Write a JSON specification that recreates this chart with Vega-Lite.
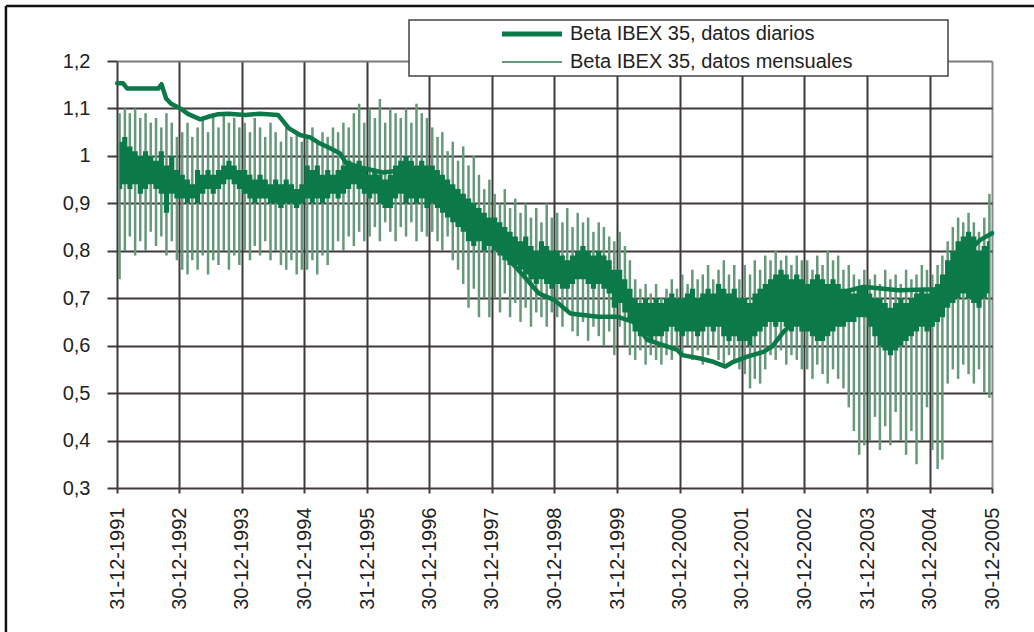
{
"$schema":"https://vega.github.io/schema/vega-lite/v6.json",
"autosize":{"type":"none"},
"width":875,"height":427,
"padding":{"left":117,"top":61,"right":42,"bottom":144},
"background":"white",
"config":{"view":{"stroke":null},"font":"Liberation Sans"},
"datasets":{
"mensual":[
{"d":"1992-01-15","hi":1.09,"lo":0.74,"ch":1.03,"cl":0.93},
{"d":"1992-02-15","hi":1.10,"lo":0.80,"ch":1.04,"cl":0.94},
{"d":"1992-03-15","hi":1.09,"lo":0.83,"ch":1.02,"cl":0.93},
{"d":"1992-04-15","hi":1.10,"lo":0.79,"ch":1.01,"cl":0.94},
{"d":"1992-05-15","hi":1.08,"lo":0.82,"ch":1.00,"cl":0.92},
{"d":"1992-06-15","hi":1.09,"lo":0.80,"ch":1.01,"cl":0.93},
{"d":"1992-07-15","hi":1.07,"lo":0.84,"ch":1.00,"cl":0.94},
{"d":"1992-08-15","hi":1.08,"lo":0.81,"ch":0.99,"cl":0.93},
{"d":"1992-09-15","hi":1.06,"lo":0.83,"ch":1.01,"cl":0.92},
{"d":"1992-10-15","hi":1.09,"lo":0.79,"ch":0.98,"cl":0.88},
{"d":"1992-11-15","hi":1.07,"lo":0.82,"ch":1.00,"cl":0.92},
{"d":"1992-12-15","hi":1.04,"lo":0.78,"ch":0.97,"cl":0.91},
{"d":"1993-01-15","hi":1.05,"lo":0.76,"ch":0.96,"cl":0.91},
{"d":"1993-02-15","hi":1.07,"lo":0.75,"ch":0.95,"cl":0.90},
{"d":"1993-03-15","hi":1.04,"lo":0.78,"ch":0.94,"cl":0.91},
{"d":"1993-04-15","hi":1.06,"lo":0.76,"ch":0.97,"cl":0.90},
{"d":"1993-05-15","hi":1.08,"lo":0.79,"ch":0.96,"cl":0.92},
{"d":"1993-06-15","hi":1.05,"lo":0.75,"ch":0.97,"cl":0.93},
{"d":"1993-07-15","hi":1.09,"lo":0.78,"ch":0.96,"cl":0.92},
{"d":"1993-08-15","hi":1.06,"lo":0.77,"ch":0.97,"cl":0.93},
{"d":"1993-09-15","hi":1.09,"lo":0.80,"ch":0.98,"cl":0.94},
{"d":"1993-10-15","hi":1.07,"lo":0.76,"ch":0.99,"cl":0.95},
{"d":"1993-11-15","hi":1.08,"lo":0.79,"ch":0.98,"cl":0.94},
{"d":"1993-12-15","hi":1.06,"lo":0.77,"ch":0.97,"cl":0.93},
{"d":"1994-01-15","hi":1.07,"lo":0.80,"ch":0.97,"cl":0.92},
{"d":"1994-02-15","hi":1.05,"lo":0.78,"ch":0.96,"cl":0.91},
{"d":"1994-03-15","hi":1.08,"lo":0.81,"ch":0.95,"cl":0.90},
{"d":"1994-04-15","hi":1.06,"lo":0.79,"ch":0.96,"cl":0.91},
{"d":"1994-05-15","hi":1.04,"lo":0.82,"ch":0.95,"cl":0.91},
{"d":"1994-06-15","hi":1.07,"lo":0.78,"ch":0.94,"cl":0.90},
{"d":"1994-07-15","hi":1.05,"lo":0.80,"ch":0.95,"cl":0.90},
{"d":"1994-08-15","hi":1.03,"lo":0.77,"ch":0.94,"cl":0.89},
{"d":"1994-09-15","hi":1.06,"lo":0.76,"ch":0.95,"cl":0.90},
{"d":"1994-10-15","hi":1.04,"lo":0.78,"ch":0.94,"cl":0.90},
{"d":"1994-11-15","hi":1.05,"lo":0.75,"ch":0.93,"cl":0.89},
{"d":"1994-12-15","hi":1.03,"lo":0.76,"ch":0.94,"cl":0.90},
{"d":"1995-01-15","hi":1.04,"lo":0.76,"ch":0.98,"cl":0.91},
{"d":"1995-02-15","hi":1.06,"lo":0.78,"ch":0.97,"cl":0.90},
{"d":"1995-03-15","hi":1.03,"lo":0.75,"ch":0.98,"cl":0.91},
{"d":"1995-04-15","hi":1.05,"lo":0.79,"ch":0.96,"cl":0.90},
{"d":"1995-05-15","hi":1.04,"lo":0.77,"ch":0.97,"cl":0.91},
{"d":"1995-06-15","hi":1.06,"lo":0.80,"ch":0.96,"cl":0.92},
{"d":"1995-07-15","hi":1.05,"lo":0.82,"ch":0.97,"cl":0.91},
{"d":"1995-08-15","hi":1.07,"lo":0.80,"ch":0.98,"cl":0.92},
{"d":"1995-09-15","hi":1.06,"lo":0.83,"ch":0.99,"cl":0.93},
{"d":"1995-10-15","hi":1.09,"lo":0.81,"ch":0.98,"cl":0.94},
{"d":"1995-11-15","hi":1.11,"lo":0.84,"ch":0.99,"cl":0.93},
{"d":"1995-12-15","hi":1.07,"lo":0.82,"ch":0.97,"cl":0.92},
{"d":"1996-01-15","hi":1.10,"lo":0.83,"ch":0.96,"cl":0.91},
{"d":"1996-02-15","hi":1.08,"lo":0.85,"ch":0.97,"cl":0.92},
{"d":"1996-03-15","hi":1.12,"lo":0.82,"ch":0.96,"cl":0.90},
{"d":"1996-04-15","hi":1.07,"lo":0.86,"ch":0.95,"cl":0.89},
{"d":"1996-05-15","hi":1.10,"lo":0.84,"ch":0.96,"cl":0.89},
{"d":"1996-06-15","hi":1.09,"lo":0.82,"ch":0.98,"cl":0.91},
{"d":"1996-07-15","hi":1.08,"lo":0.85,"ch":0.99,"cl":0.92},
{"d":"1996-08-15","hi":1.10,"lo":0.83,"ch":1.00,"cl":0.90},
{"d":"1996-09-15","hi":1.07,"lo":0.86,"ch":0.99,"cl":0.91},
{"d":"1996-10-15","hi":1.11,"lo":0.82,"ch":0.98,"cl":0.90},
{"d":"1996-11-15","hi":1.09,"lo":0.84,"ch":0.99,"cl":0.91},
{"d":"1996-12-15","hi":1.08,"lo":0.83,"ch":0.98,"cl":0.89},
{"d":"1997-01-15","hi":1.06,"lo":0.84,"ch":0.98,"cl":0.90},
{"d":"1997-02-15","hi":1.04,"lo":0.82,"ch":0.97,"cl":0.89},
{"d":"1997-03-15","hi":1.05,"lo":0.80,"ch":0.96,"cl":0.88},
{"d":"1997-04-15","hi":1.01,"lo":0.83,"ch":0.95,"cl":0.87},
{"d":"1997-05-15","hi":1.03,"lo":0.78,"ch":0.94,"cl":0.86},
{"d":"1997-06-15","hi":0.99,"lo":0.76,"ch":0.93,"cl":0.85},
{"d":"1997-07-15","hi":1.02,"lo":0.73,"ch":0.92,"cl":0.84},
{"d":"1997-08-15","hi":0.98,"lo":0.68,"ch":0.91,"cl":0.82},
{"d":"1997-09-15","hi":1.00,"lo":0.72,"ch":0.90,"cl":0.81},
{"d":"1997-10-15","hi":0.96,"lo":0.66,"ch":0.89,"cl":0.82},
{"d":"1997-11-15","hi":0.93,"lo":0.70,"ch":0.88,"cl":0.80},
{"d":"1997-12-15","hi":0.95,"lo":0.66,"ch":0.87,"cl":0.81},
{"d":"1998-01-15","hi":0.92,"lo":0.70,"ch":0.87,"cl":0.80},
{"d":"1998-02-15","hi":0.90,"lo":0.67,"ch":0.86,"cl":0.79},
{"d":"1998-03-15","hi":0.93,"lo":0.71,"ch":0.85,"cl":0.78},
{"d":"1998-04-15","hi":0.89,"lo":0.66,"ch":0.84,"cl":0.77},
{"d":"1998-05-15","hi":0.91,"lo":0.69,"ch":0.83,"cl":0.77},
{"d":"1998-06-15","hi":0.88,"lo":0.65,"ch":0.82,"cl":0.76},
{"d":"1998-07-15","hi":0.90,"lo":0.68,"ch":0.83,"cl":0.75},
{"d":"1998-08-15","hi":0.87,"lo":0.64,"ch":0.81,"cl":0.74},
{"d":"1998-09-15","hi":0.89,"lo":0.67,"ch":0.80,"cl":0.73},
{"d":"1998-10-15","hi":0.86,"lo":0.66,"ch":0.82,"cl":0.74},
{"d":"1998-11-15","hi":0.90,"lo":0.64,"ch":0.81,"cl":0.73},
{"d":"1998-12-15","hi":0.87,"lo":0.67,"ch":0.80,"cl":0.72},
{"d":"1999-01-15","hi":0.88,"lo":0.66,"ch":0.80,"cl":0.73},
{"d":"1999-02-15","hi":0.86,"lo":0.64,"ch":0.79,"cl":0.72},
{"d":"1999-03-15","hi":0.89,"lo":0.67,"ch":0.78,"cl":0.72},
{"d":"1999-04-15","hi":0.85,"lo":0.63,"ch":0.79,"cl":0.73},
{"d":"1999-05-15","hi":0.88,"lo":0.62,"ch":0.80,"cl":0.74},
{"d":"1999-06-15","hi":0.86,"lo":0.65,"ch":0.81,"cl":0.74},
{"d":"1999-07-15","hi":0.87,"lo":0.61,"ch":0.80,"cl":0.73},
{"d":"1999-08-15","hi":0.84,"lo":0.64,"ch":0.79,"cl":0.72},
{"d":"1999-09-15","hi":0.86,"lo":0.62,"ch":0.80,"cl":0.73},
{"d":"1999-10-15","hi":0.85,"lo":0.60,"ch":0.79,"cl":0.72},
{"d":"1999-11-15","hi":0.83,"lo":0.63,"ch":0.78,"cl":0.71},
{"d":"1999-12-15","hi":0.82,"lo":0.58,"ch":0.76,"cl":0.68},
{"d":"2000-01-15","hi":0.84,"lo":0.64,"ch":0.76,"cl":0.69},
{"d":"2000-02-15","hi":0.81,"lo":0.60,"ch":0.74,"cl":0.67},
{"d":"2000-03-15","hi":0.78,"lo":0.58,"ch":0.72,"cl":0.65},
{"d":"2000-04-15","hi":0.74,"lo":0.57,"ch":0.70,"cl":0.63},
{"d":"2000-05-15","hi":0.72,"lo":0.59,"ch":0.69,"cl":0.62},
{"d":"2000-06-15","hi":0.73,"lo":0.56,"ch":0.70,"cl":0.62},
{"d":"2000-07-15","hi":0.71,"lo":0.58,"ch":0.69,"cl":0.61},
{"d":"2000-08-15","hi":0.73,"lo":0.57,"ch":0.70,"cl":0.62},
{"d":"2000-09-15","hi":0.70,"lo":0.56,"ch":0.69,"cl":0.62},
{"d":"2000-10-15","hi":0.72,"lo":0.58,"ch":0.70,"cl":0.63},
{"d":"2000-11-15","hi":0.74,"lo":0.57,"ch":0.71,"cl":0.64},
{"d":"2000-12-15","hi":0.72,"lo":0.59,"ch":0.70,"cl":0.63},
{"d":"2001-01-15","hi":0.75,"lo":0.58,"ch":0.70,"cl":0.62},
{"d":"2001-02-15","hi":0.73,"lo":0.60,"ch":0.71,"cl":0.63},
{"d":"2001-03-15","hi":0.76,"lo":0.57,"ch":0.72,"cl":0.63},
{"d":"2001-04-15","hi":0.74,"lo":0.59,"ch":0.70,"cl":0.62},
{"d":"2001-05-15","hi":0.75,"lo":0.56,"ch":0.71,"cl":0.63},
{"d":"2001-06-15","hi":0.77,"lo":0.58,"ch":0.72,"cl":0.64},
{"d":"2001-07-15","hi":0.74,"lo":0.60,"ch":0.71,"cl":0.63},
{"d":"2001-08-15","hi":0.76,"lo":0.57,"ch":0.73,"cl":0.64},
{"d":"2001-09-15","hi":0.78,"lo":0.56,"ch":0.72,"cl":0.62},
{"d":"2001-10-15","hi":0.75,"lo":0.58,"ch":0.71,"cl":0.61},
{"d":"2001-11-15","hi":0.77,"lo":0.57,"ch":0.72,"cl":0.62},
{"d":"2001-12-15","hi":0.74,"lo":0.55,"ch":0.70,"cl":0.61},
{"d":"2002-01-15","hi":0.77,"lo":0.54,"ch":0.70,"cl":0.61},
{"d":"2002-02-15","hi":0.75,"lo":0.51,"ch":0.69,"cl":0.60},
{"d":"2002-03-15","hi":0.78,"lo":0.53,"ch":0.71,"cl":0.62},
{"d":"2002-04-15","hi":0.76,"lo":0.52,"ch":0.72,"cl":0.63},
{"d":"2002-05-15","hi":0.79,"lo":0.55,"ch":0.73,"cl":0.64},
{"d":"2002-06-15","hi":0.78,"lo":0.58,"ch":0.74,"cl":0.65},
{"d":"2002-07-15","hi":0.80,"lo":0.57,"ch":0.75,"cl":0.64},
{"d":"2002-08-15","hi":0.78,"lo":0.59,"ch":0.76,"cl":0.65},
{"d":"2002-09-15","hi":0.79,"lo":0.56,"ch":0.75,"cl":0.64},
{"d":"2002-10-15","hi":0.77,"lo":0.58,"ch":0.74,"cl":0.63},
{"d":"2002-11-15","hi":0.79,"lo":0.57,"ch":0.75,"cl":0.64},
{"d":"2002-12-15","hi":0.78,"lo":0.55,"ch":0.74,"cl":0.63},
{"d":"2003-01-15","hi":0.78,"lo":0.55,"ch":0.73,"cl":0.63},
{"d":"2003-02-15","hi":0.76,"lo":0.53,"ch":0.74,"cl":0.62},
{"d":"2003-03-15","hi":0.79,"lo":0.56,"ch":0.75,"cl":0.61},
{"d":"2003-04-15","hi":0.77,"lo":0.54,"ch":0.74,"cl":0.61},
{"d":"2003-05-15","hi":0.80,"lo":0.52,"ch":0.73,"cl":0.62},
{"d":"2003-06-15","hi":0.78,"lo":0.55,"ch":0.74,"cl":0.63},
{"d":"2003-07-15","hi":0.79,"lo":0.53,"ch":0.73,"cl":0.64},
{"d":"2003-08-15","hi":0.76,"lo":0.51,"ch":0.72,"cl":0.64},
{"d":"2003-09-15","hi":0.77,"lo":0.47,"ch":0.72,"cl":0.65},
{"d":"2003-10-15","hi":0.75,"lo":0.42,"ch":0.71,"cl":0.65},
{"d":"2003-11-15","hi":0.74,"lo":0.37,"ch":0.72,"cl":0.66},
{"d":"2003-12-15","hi":0.76,"lo":0.39,"ch":0.72,"cl":0.66},
{"d":"2004-01-15","hi":0.74,"lo":0.40,"ch":0.71,"cl":0.64},
{"d":"2004-02-15","hi":0.75,"lo":0.45,"ch":0.70,"cl":0.62},
{"d":"2004-03-15","hi":0.73,"lo":0.38,"ch":0.70,"cl":0.60},
{"d":"2004-04-15","hi":0.76,"lo":0.43,"ch":0.69,"cl":0.59},
{"d":"2004-05-15","hi":0.74,"lo":0.39,"ch":0.68,"cl":0.58},
{"d":"2004-06-15","hi":0.75,"lo":0.46,"ch":0.69,"cl":0.59},
{"d":"2004-07-15","hi":0.73,"lo":0.40,"ch":0.70,"cl":0.60},
{"d":"2004-08-15","hi":0.76,"lo":0.37,"ch":0.69,"cl":0.61},
{"d":"2004-09-15","hi":0.74,"lo":0.42,"ch":0.70,"cl":0.62},
{"d":"2004-10-15","hi":0.75,"lo":0.35,"ch":0.71,"cl":0.63},
{"d":"2004-11-15","hi":0.77,"lo":0.40,"ch":0.72,"cl":0.64},
{"d":"2004-12-15","hi":0.76,"lo":0.47,"ch":0.71,"cl":0.63},
{"d":"2005-01-15","hi":0.75,"lo":0.38,"ch":0.72,"cl":0.64},
{"d":"2005-02-15","hi":0.77,"lo":0.34,"ch":0.73,"cl":0.65},
{"d":"2005-03-15","hi":0.79,"lo":0.36,"ch":0.75,"cl":0.66},
{"d":"2005-04-15","hi":0.82,"lo":0.52,"ch":0.78,"cl":0.68},
{"d":"2005-05-15","hi":0.85,"lo":0.55,"ch":0.80,"cl":0.69},
{"d":"2005-06-15","hi":0.87,"lo":0.53,"ch":0.82,"cl":0.70},
{"d":"2005-07-15","hi":0.86,"lo":0.56,"ch":0.83,"cl":0.71},
{"d":"2005-08-15","hi":0.88,"lo":0.54,"ch":0.84,"cl":0.70},
{"d":"2005-09-15","hi":0.86,"lo":0.52,"ch":0.83,"cl":0.69},
{"d":"2005-10-15","hi":0.84,"lo":0.55,"ch":0.80,"cl":0.68},
{"d":"2005-11-15","hi":0.87,"lo":0.50,"ch":0.81,"cl":0.70},
{"d":"2005-12-15","hi":0.92,"lo":0.49,"ch":0.82,"cl":0.71}
],
"diario":[
{"d":"1992-01-01","v":1.153},{"d":"1992-02-05","v":1.153},{"d":"1992-02-28","v":1.142},{"d":"1992-08-28","v":1.142},
{"d":"1992-09-16","v":1.151},{"d":"1992-10-13","v":1.121},{"d":"1992-11-11","v":1.110},{"d":"1993-01-04","v":1.100},
{"d":"1993-02-20","v":1.088},{"d":"1993-05-01","v":1.077},{"d":"1993-06-22","v":1.083},{"d":"1993-08-14","v":1.088},
{"d":"1993-10-11","v":1.089},{"d":"1994-01-18","v":1.086},{"d":"1994-04-15","v":1.089},{"d":"1994-07-30","v":1.086},
{"d":"1994-10-01","v":1.058},{"d":"1994-12-05","v":1.044},{"d":"1995-02-02","v":1.039},{"d":"1995-04-01","v":1.026},
{"d":"1995-05-30","v":1.016},{"d":"1995-07-27","v":1.005},{"d":"1995-08-30","v":0.985},{"d":"1995-12-01","v":0.975},
{"d":"1996-04-01","v":0.965},{"d":"1996-08-01","v":0.970},{"d":"1996-12-01","v":0.960},{"d":"1997-03-01","v":0.940},
{"d":"1997-07-01","v":0.900},{"d":"1997-10-01","v":0.860},{"d":"1998-01-01","v":0.820},{"d":"1998-06-01","v":0.760},
{"d":"1998-10-01","v":0.710},{"d":"1998-12-31","v":0.696},{"d":"1999-04-01","v":0.668},{"d":"1999-09-12","v":0.661},
{"d":"1999-12-31","v":0.661},{"d":"2000-04-05","v":0.650},{"d":"2000-05-15","v":0.633},{"d":"2000-06-25","v":0.612},
{"d":"2000-12-17","v":0.591},{"d":"2001-01-15","v":0.580},{"d":"2001-05-01","v":0.573},{"d":"2001-07-16","v":0.566},
{"d":"2001-09-24","v":0.556},{"d":"2001-11-10","v":0.566},{"d":"2002-01-30","v":0.577},{"d":"2002-05-04","v":0.587},
{"d":"2002-06-24","v":0.598},{"d":"2002-09-01","v":0.630},{"d":"2002-12-01","v":0.660},{"d":"2003-03-01","v":0.690},
{"d":"2003-06-01","v":0.700},{"d":"2003-09-01","v":0.715},{"d":"2003-12-08","v":0.724},{"d":"2004-07-01","v":0.717},
{"d":"2005-02-02","v":0.719},{"d":"2005-03-14","v":0.728},{"d":"2005-04-20","v":0.738},{"d":"2005-06-10","v":0.770},
{"d":"2005-08-14","v":0.800},{"d":"2005-10-23","v":0.823},{"d":"2005-12-30","v":0.837}
]
},
"layer":[
{
"data":{"name":"mensual"},
"mark":{"type":"rule","strokeWidth":2.5},
"encoding":{
"x":{"field":"d","type":"temporal",
"scale":{"type":"utc","domain":[{"year":1991,"month":12,"date":31,"utc":true},{"year":2005,"month":12,"date":30,"utc":true}]},
"axis":{"values":[
{"year":1991,"month":12,"date":31,"utc":true},{"year":1992,"month":12,"date":30,"utc":true},{"year":1993,"month":12,"date":30,"utc":true},
{"year":1994,"month":12,"date":30,"utc":true},{"year":1995,"month":12,"date":31,"utc":true},{"year":1996,"month":12,"date":30,"utc":true},
{"year":1997,"month":12,"date":30,"utc":true},{"year":1998,"month":12,"date":30,"utc":true},{"year":1999,"month":12,"date":31,"utc":true},
{"year":2000,"month":12,"date":30,"utc":true},{"year":2001,"month":12,"date":30,"utc":true},{"year":2002,"month":12,"date":30,"utc":true},
{"year":2003,"month":12,"date":31,"utc":true},{"year":2004,"month":12,"date":30,"utc":true},{"year":2005,"month":12,"date":30,"utc":true}],
"labelExpr":"utcFormat(datum.value, '%d-%m-%Y')","labelAngle":-90,"labelPadding":14,"labelFontSize":20,"labelColor":"#222222",
"labelOverlap":false,"labelFlush":false,
"tickSize":5,"tickWidth":2,"tickColor":"#40383a","domain":false,"grid":true,"gridWidth":2,
"gridColor":{"condition":{"test":"datum.value > 1135000000000","value":"#8a8a8a"},"value":"#40383a"},
"title":null}},
"y":{"field":"hi","type":"quantitative","scale":{"domain":[0.3,1.2],"nice":false,"zero":false},
"axis":{"values":[0.3,0.4,0.5,0.6,0.7,0.8,0.9,1.0,1.1,1.2],
"labelExpr":"replace(format(datum.value,'.1~f'),'.',',')",
"labelPadding":17,"labelFontSize":20,"labelColor":"#222222","tickSize":10,"tickWidth":2,"tickColor":"#40383a",
"domain":false,"grid":true,"gridWidth":2,
"gridColor":{"condition":{"test":"datum.value > 1.15","value":"#7a7a7a"},"value":"#40383a"},
"title":null}},
"y2":{"field":"lo"},
"color":{"datum":"Beta IBEX 35, datos mensuales","type":"nominal",
"scale":{"domain":["Beta IBEX 35, datos diarios","Beta IBEX 35, datos mensuales"],"range":["#0b7a48","#66987a"]},
"legend":{"orient":"none","legendX":292,"legendY":-41,
"title":"\u00a0","titleOrient":"right","titlePadding":92,"titleFontSize":20,"titleFont":"Liberation Sans",
"symbolType":"M-3,0H3","symbolSize":400,"symbolStrokeWidth":3,"symbolOffset":109,"labelOffset":28,
"labelFontSize":20,"labelFont":"Liberation Sans","labelColor":"#222222","labelLimit":800,
"rowPadding":8,"padding":4,"strokeColor":"#444444","fillColor":"#ffffff","cornerRadius":0,
"encode":{
"symbols":{"update":{"strokeWidth":{"signal":"datum.value == 'Beta IBEX 35, datos diarios' ? 5 : 2"}}},
"legend":{"update":{"strokeWidth":{"value":1.5}}}}}}
}
},
{
"data":{"name":"mensual"},
"mark":{"type":"area","interpolate":"step","color":"#0b7a48"},
"encoding":{
"x":{"field":"d","type":"temporal"},
"y":{"field":"ch","type":"quantitative"},
"y2":{"field":"cl"}
}
},
{
"data":{"name":"diario"},
"mark":{"type":"line","strokeWidth":4.5,"strokeJoin":"round","strokeCap":"round"},
"encoding":{
"x":{"field":"d","type":"temporal"},
"y":{"field":"v","type":"quantitative"},
"color":{"datum":"Beta IBEX 35, datos diarios","type":"nominal"}
}
},
{
"data":{"values":[{}]},
"mark":{"type":"rule","color":"#111111","strokeWidth":2.5,"clip":false},
"encoding":{
"x":{"datum":{"year":1990,"month":3,"date":22,"utc":true},"type":"temporal"},
"y":{"datum":1.316,"type":"quantitative"},
"y2":{"datum":-0.2}
}
},
{
"data":{"values":[{}]},
"mark":{"type":"rule","color":"#111111","strokeWidth":2.5,"clip":false},
"encoding":{
"x":{"datum":{"year":1990,"month":3,"date":22,"utc":true},"type":"temporal"},
"x2":{"datum":{"year":2007,"month":6,"date":1,"utc":true}},
"y":{"datum":1.316,"type":"quantitative"}
}
}
]
}
